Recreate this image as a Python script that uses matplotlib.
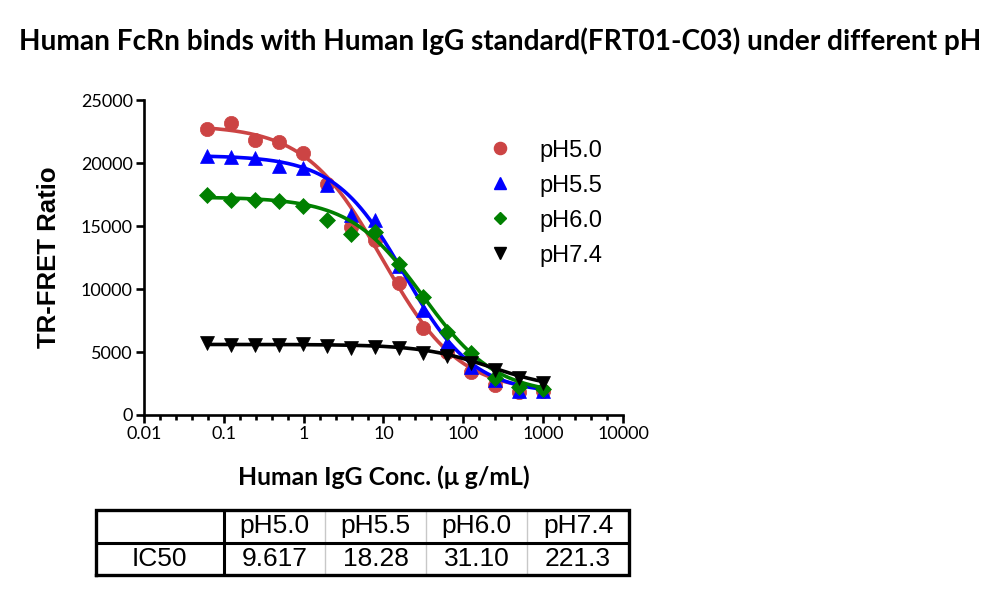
import numpy as np
import matplotlib
matplotlib.use("Agg")
import matplotlib.pyplot as plt
from matplotlib.ticker import FixedLocator, FixedFormatter
from matplotlib.lines import Line2D

# ---------------- data ----------------
conc = [0.061, 0.122, 0.244, 0.488, 0.977, 1.95, 3.9, 7.8, 15.6, 31.25, 62.5, 125, 250, 500, 1000]
series_names = ["pH5.0", "pH5.5", "pH6.0", "pH7.4"]
ph50 = [22700, 23200, 21800, 21700, 20800, 18300, 14900, 13900, 10450, 6900, 5000, 3400, 2400, 1850, 1900]
ph55 = [20550, 20450, 20400, 19800, 19600, 18250, 15900, 15500, 11800, 8300, 5700, 3800, 2800, 1900, 1900]
ph60 = [17500, 17100, 17100, 17000, 16600, 15500, 14400, 14500, 12000, 9400, 6600, 4900, 2900, 2250, 2100]
ph74 = [5700, 5550, 5550, 5550, 5650, 5450, 5300, 5400, 5300, 4900, 4700, 4100, 3600, 2900, 2500]

# fitted 4PL curve parameters (top, bottom, IC50, hill)
fit_top = [23000, 20600, 17300, 5600]
fit_bottom = [1800, 1700, 1600, 2000]
ic50 = [9.617, 18.28, 31.10, 221.3]
ic50_labels = ["9.617", "18.28", "31.10", "221.3"]
fit_hill = [0.9, 1.0, 0.95, 1.0]

xtick_vals = [0.01, 0.1, 1, 10, 100, 1000, 10000]
xtick_labels = ["0.01", "0.1", "1", "10", "100", "1000", "10000"]
ytick_vals = [0, 5000, 10000, 15000, 20000, 25000]
ytick_labels = ["0", "5000", "10000", "15000", "20000", "25000"]

title = "Human FcRn binds with Human IgG standard(FRT01-C03) under different pH"
xlabel = "Human IgG Conc. (\u03bc g/mL)"
ylabel = "TR-FRET Ratio"

# ---------------- style ----------------
colors = ["#cc4444", "#0000ff", "#008000", "#000000"]
markers = ["o", "^", "D", "v"]
msizes = [10.3, 10, 7.7, 10]

fig = plt.figure(figsize=(10, 5.92), dpi=100)
ax = fig.add_axes([0.144, 0.299, 0.479, 0.532])

ys = [ph50, ph55, ph60, ph74]
xs = np.logspace(np.log10(conc[0]), np.log10(conc[-1]), 400)
handles = []
for i in range(4):
    curve = fit_bottom[i] + (fit_top[i] - fit_bottom[i]) / (1 + (xs / ic50[i]) ** fit_hill[i])
    ax.plot(xs, curve, color=colors[i], lw=2.6, zorder=2 + i, solid_capstyle="round")
    ax.plot(conc, ys[i], linestyle="none", marker=markers[i], ms=msizes[i],
            color=colors[i], mec=colors[i], mew=0.5, zorder=2 + i, clip_on=False)
    handles.append(Line2D([], [], linestyle="none", marker=markers[i], ms=msizes[i] * 0.85,
                          color=colors[i], mec=colors[i]))

ax.set_xscale("log")
ax.set_xlim(0.01, 10000)
ax.set_ylim(0, 25000)
ax.xaxis.set_major_locator(FixedLocator(xtick_vals))
ax.xaxis.set_major_formatter(FixedFormatter(xtick_labels))
minor = [10 ** (k + j * 0.2) for k in range(-2, 4) for j in range(1, 5)]
ax.xaxis.set_minor_locator(FixedLocator(minor))
ax.xaxis.set_minor_formatter(FixedFormatter([""] * len(minor)))
ax.yaxis.set_major_locator(FixedLocator(ytick_vals))
ax.yaxis.set_major_formatter(FixedFormatter(ytick_labels))

for s in ["top", "right"]:
    ax.spines[s].set_visible(False)
for s in ["left", "bottom"]:
    ax.spines[s].set_linewidth(1.9)
ax.tick_params(axis="both", which="major", length=6, width=1.9, direction="out",
               labelsize=13, pad=2)
ax.tick_params(axis="x", which="minor", length=3.5, width=1.9, direction="out")
for lab in ax.get_xticklabels() + ax.get_yticklabels():
    lab.set_family(["Lato", "DejaVu Sans"])

ax.set_xlabel(xlabel, fontsize=17.8, fontweight="bold", family=["Lato", "DejaVu Sans"], labelpad=17)
ax.set_ylabel(ylabel, fontsize=18.5, fontweight="bold", family=["Liberation Sans", "DejaVu Sans"], labelpad=14)
fig.text(0.5, 0.915, title, ha="center", va="baseline", fontsize=20.2, fontweight="bold",
         family=["Lato", "DejaVu Sans"])

leg = ax.legend(handles, series_names, loc="upper left", bbox_to_anchor=(0.476, 0.784),
                bbox_transform=fig.transFigure, frameon=False,
                handlelength=1.0, handletextpad=1.2, labelspacing=0.55, borderpad=0,
                prop={"family": "Liberation Sans", "size": 17})

# ---------------- table ----------------
tax = fig.add_axes([0.0957, 0.0287, 0.533, 0.1098])
tax.set_axis_off()
tax.set_xlim(0, 1)
tax.set_ylim(0, 1)
col_w = [0.24, 0.19, 0.19, 0.19, 0.19]
cells = [[""] + series_names, ["IC50"] + ic50_labels]
tbl = tax.table(cellText=cells, cellLoc="center", colWidths=col_w, bbox=[0, 0, 1, 1], edges="open")
tbl.auto_set_font_size(False)
for (r, c), cell in tbl.get_celld().items():
    cell.get_text().set_fontsize(19)
    cell.get_text().set_family("Liberation Sans")
bounds = np.cumsum([0] + col_w)
for b in bounds[2:-1]:
    tax.plot([b, b], [0, 1], color="#c8c8c8", lw=1.0, zorder=3)
tax.plot([bounds[1], bounds[1]], [0, 1], color="black", lw=2.2, zorder=4)
tax.plot([0, 1], [0.5, 0.5], color="black", lw=2.2, zorder=4)
tax.plot([0, 1, 1, 0, 0], [0, 0, 1, 1, 0], color="black", lw=2.4, zorder=5, clip_on=False,
         solid_joinstyle="miter")

fig.savefig("out.png", dpi=100)
